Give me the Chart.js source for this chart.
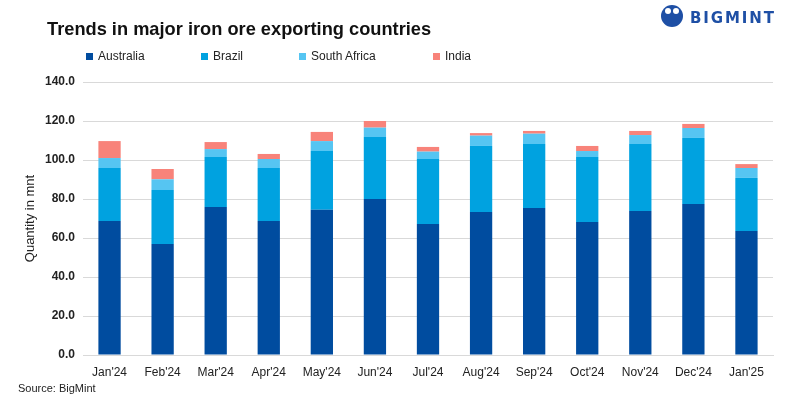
<!DOCTYPE html>
<html>
<head>
<meta charset="utf-8">
<script src="https://cdn.jsdelivr.net/npm/chart.js@4"></script>
<style>
  html, body { margin: 0; padding: 0; background: #fff; }
  #wrap { position: relative; width: 787px; height: 399px; font-family: "Liberation Sans", Arial, sans-serif; }
  #chart { position: absolute; left: 0; top: 0; }
  #titulo { position: absolute; left: 47px; top: 18px; font-size: 19px; font-weight: bold; color: #111; white-space: nowrap; transform: scaleX(0.96); transform-origin: 0 0; }
  #legenda { position: absolute; left: 0; top: 49px; font-size: 12px; color: #222; }
  .item { position: absolute; white-space: nowrap; }
  .item span.box { display: inline-block; width: 7px; height: 7px; margin-right: 5px; vertical-align: 0px; }
  #fonte { position: absolute; left: 18px; top: 382px; font-size: 11px; color: #222; }
  #logo { position: absolute; left: 661px; top: 5px; height: 24px; }
  #logo .ico { position: absolute; left: 0; top: 0; width: 22px; height: 22px; border-radius: 50%; background: #1e4fa5; }
  #logo .ico i { position: absolute; top: 3px; width: 6px; height: 6px; border-radius: 50%; background: #fff; }
  #logo .txt { position: absolute; left: 29px; top: 4px; font-family: "DejaVu Sans", sans-serif; font-weight: bold; font-size: 15px; letter-spacing: 1.9px; color: #1e4fa5; }
</style>
</head>
<body>
<div id="wrap">
  <canvas id="chart" width="787" height="399"></canvas>
  <div id="titulo">Trends in major iron ore exporting countries</div>
  <div id="legenda"></div>
  <div id="logo"><div class="ico"><i style="left:4px"></i><i style="left:12px"></i></div><div class="txt">BIGMINT</div></div>
  <div id="fonte">Source: BigMint</div>
</div>
<script>
// Dados (milhões de toneladas)
const meses = ["Jan'24", "Feb'24", "Mar'24", "Apr'24", "May'24", "Jun'24", "Jul'24", "Aug'24", "Sep'24", "Oct'24", "Nov'24", "Dec'24", "Jan'25"];
const australia = [68.7, 56.9, 75.9, 68.7, 74.5, 80.0, 67.2, 73.3, 75.4, 68.2, 73.8, 77.4, 63.6];
const brasil = [27.2, 27.7, 25.6, 27.2, 30.1, 31.8, 33.3, 33.9, 32.8, 33.3, 34.4, 33.9, 27.2];
const africaDoSul = [5.1, 5.5, 4.1, 4.6, 5.1, 4.8, 3.8, 5.3, 5.3, 3.1, 4.6, 5.1, 5.1];
const india = [8.7, 5.3, 3.6, 2.6, 4.7, 3.4, 2.4, 1.3, 1.4, 2.6, 2.1, 2.1, 2.0];
const yTicks = [0, 20, 40, 60, 80, 100, 120, 140];

const series = [
  { label: 'Australia', data: australia, cor: '#004c9f' },
  { label: 'Brazil', data: brasil, cor: '#00a2e0' },
  { label: 'South Africa', data: africaDoSul, cor: '#56c5f2' },
  { label: 'India', data: india, cor: '#f8837a' }
];

// Legenda em HTML
const posLegenda = [86, 201, 299, 433];
const legenda = document.getElementById('legenda');
series.forEach((s, i) => {
  const el = document.createElement('div');
  el.className = 'item';
  el.style.left = posLegenda[i] + 'px';
  el.innerHTML = '<span class="box" style="background:' + s.cor + '"></span>' + s.label;
  legenda.appendChild(el);
});

const fonte = "'Liberation Sans', Arial, sans-serif";

new Chart(document.getElementById('chart'), {
  type: 'bar',
  data: {
    labels: meses,
    datasets: series.map(s => ({
      label: s.label,
      data: s.data,
      backgroundColor: s.cor,
      borderWidth: 0,
      barPercentage: 0.42,
      categoryPercentage: 1
    }))
  },
  options: {
    responsive: false,
    animation: false,
    layout: { padding: { left: 18, right: 14, top: 82, bottom: 14 } },
    plugins: {
      legend: { display: false },
      tooltip: { enabled: false }
    },
    scales: {
      x: {
        stacked: true,
        grid: { display: false, drawTicks: false },
        border: { color: '#d9d9d9', width: 1 },
        ticks: { color: '#222', font: { family: fonte, size: 12 }, padding: 10, maxRotation: 0, autoSkip: false },
        afterFit: s => { s.height = 30; }
      },
      y: {
        stacked: true,
        min: 0,
        max: 140,
        afterBuildTicks: s => { s.ticks = yTicks.map(v => ({ value: v })); },
        grid: { color: '#d9d9d9', lineWidth: 1, drawTicks: false },
        border: { display: false },
        ticks: {
          color: '#222',
          font: { family: fonte, size: 12, weight: 'bold' },
          padding: 8,
          callback: v => v.toFixed(1)
        },
        title: { display: true, text: 'Quantity in mnt', color: '#222', font: { family: fonte, size: 13 }, padding: { top: 5, bottom: 0 } },
        afterFit: s => { s.width = 65; }
      }
    }
  }
});
</script>
</body>
</html>
